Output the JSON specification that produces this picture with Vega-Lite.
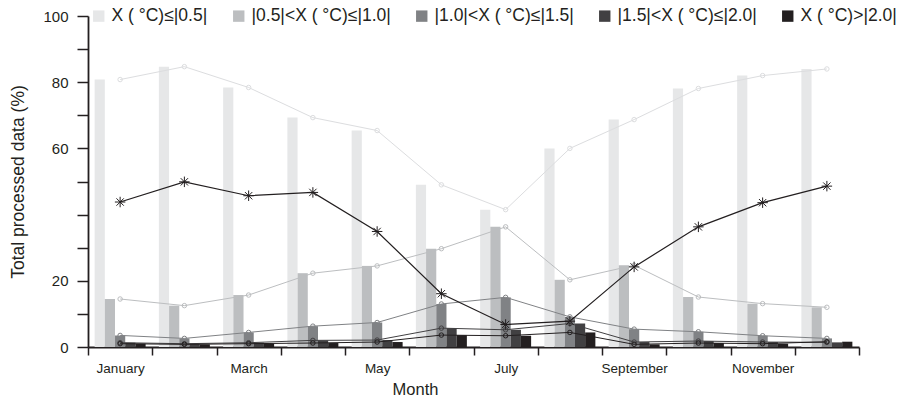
{
  "$schema": "https://vega.github.io/schema/vega-lite/v6.json",
  "width": 771,
  "height": 331,
  "autosize": {"type": "none"},
  "padding": {"left": 88, "top": 16, "right": 40, "bottom": 54},
  "background": "#ffffff",
  "config": {
    "font": "Liberation Sans",
    "view": {"stroke": null},
    "axis": {
      "domainColor": "#231f20",
      "tickColor": "#231f20",
      "labelColor": "#231f20",
      "titleColor": "#231f20",
      "titleFontWeight": "normal",
      "grid": false
    }
  },
  "datasets": {
    "bars": [
      {"month": "January", "series": "X ( °C)≤|0.5|", "value": 80.8},
      {"month": "February", "series": "X ( °C)≤|0.5|", "value": 84.7},
      {"month": "March", "series": "X ( °C)≤|0.5|", "value": 78.4},
      {"month": "April", "series": "X ( °C)≤|0.5|", "value": 69.3},
      {"month": "May", "series": "X ( °C)≤|0.5|", "value": 65.4},
      {"month": "June", "series": "X ( °C)≤|0.5|", "value": 49.0},
      {"month": "July", "series": "X ( °C)≤|0.5|", "value": 41.5},
      {"month": "August", "series": "X ( °C)≤|0.5|", "value": 60.0},
      {"month": "September", "series": "X ( °C)≤|0.5|", "value": 68.7},
      {"month": "October", "series": "X ( °C)≤|0.5|", "value": 78.1},
      {"month": "November", "series": "X ( °C)≤|0.5|", "value": 82.0},
      {"month": "December", "series": "X ( °C)≤|0.5|", "value": 84.0},
      {"month": "January", "series": "|0.5|<X ( °C)≤|1.0|", "value": 14.5},
      {"month": "February", "series": "|0.5|<X ( °C)≤|1.0|", "value": 12.5},
      {"month": "March", "series": "|0.5|<X ( °C)≤|1.0|", "value": 15.7},
      {"month": "April", "series": "|0.5|<X ( °C)≤|1.0|", "value": 22.3},
      {"month": "May", "series": "|0.5|<X ( °C)≤|1.0|", "value": 24.5},
      {"month": "June", "series": "|0.5|<X ( °C)≤|1.0|", "value": 29.7},
      {"month": "July", "series": "|0.5|<X ( °C)≤|1.0|", "value": 36.3},
      {"month": "August", "series": "|0.5|<X ( °C)≤|1.0|", "value": 20.3},
      {"month": "September", "series": "|0.5|<X ( °C)≤|1.0|", "value": 24.7},
      {"month": "October", "series": "|0.5|<X ( °C)≤|1.0|", "value": 15.1},
      {"month": "November", "series": "|0.5|<X ( °C)≤|1.0|", "value": 13.1},
      {"month": "December", "series": "|0.5|<X ( °C)≤|1.0|", "value": 12.0},
      {"month": "January", "series": "|1.0|<X ( °C)≤|1.5|", "value": 3.5},
      {"month": "February", "series": "|1.0|<X ( °C)≤|1.5|", "value": 2.6},
      {"month": "March", "series": "|1.0|<X ( °C)≤|1.5|", "value": 4.4},
      {"month": "April", "series": "|1.0|<X ( °C)≤|1.5|", "value": 6.3},
      {"month": "May", "series": "|1.0|<X ( °C)≤|1.5|", "value": 7.4},
      {"month": "June", "series": "|1.0|<X ( °C)≤|1.5|", "value": 13.0},
      {"month": "July", "series": "|1.0|<X ( °C)≤|1.5|", "value": 15.0},
      {"month": "August", "series": "|1.0|<X ( °C)≤|1.5|", "value": 9.1},
      {"month": "September", "series": "|1.0|<X ( °C)≤|1.5|", "value": 5.4},
      {"month": "October", "series": "|1.0|<X ( °C)≤|1.5|", "value": 4.6},
      {"month": "November", "series": "|1.0|<X ( °C)≤|1.5|", "value": 3.4},
      {"month": "December", "series": "|1.0|<X ( °C)≤|1.5|", "value": 2.6},
      {"month": "January", "series": "|1.5|<X ( °C)≤|2.0|", "value": 1.3},
      {"month": "February", "series": "|1.5|<X ( °C)≤|2.0|", "value": 1.0},
      {"month": "March", "series": "|1.5|<X ( °C)≤|2.0|", "value": 1.3},
      {"month": "April", "series": "|1.5|<X ( °C)≤|2.0|", "value": 2.0},
      {"month": "May", "series": "|1.5|<X ( °C)≤|2.0|", "value": 2.1},
      {"month": "June", "series": "|1.5|<X ( °C)≤|2.0|", "value": 5.7},
      {"month": "July", "series": "|1.5|<X ( °C)≤|2.0|", "value": 5.2},
      {"month": "August", "series": "|1.5|<X ( °C)≤|2.0|", "value": 7.1},
      {"month": "September", "series": "|1.5|<X ( °C)≤|2.0|", "value": 1.5},
      {"month": "October", "series": "|1.5|<X ( °C)≤|2.0|", "value": 1.8},
      {"month": "November", "series": "|1.5|<X ( °C)≤|2.0|", "value": 1.5},
      {"month": "December", "series": "|1.5|<X ( °C)≤|2.0|", "value": 1.4},
      {"month": "January", "series": "X ( °C)>|2.0|", "value": 1.0},
      {"month": "February", "series": "X ( °C)>|2.0|", "value": 0.8},
      {"month": "March", "series": "X ( °C)>|2.0|", "value": 1.0},
      {"month": "April", "series": "X ( °C)>|2.0|", "value": 1.2},
      {"month": "May", "series": "X ( °C)>|2.0|", "value": 1.5},
      {"month": "June", "series": "X ( °C)>|2.0|", "value": 3.6},
      {"month": "July", "series": "X ( °C)>|2.0|", "value": 3.4},
      {"month": "August", "series": "X ( °C)>|2.0|", "value": 4.4},
      {"month": "September", "series": "X ( °C)>|2.0|", "value": 0.8},
      {"month": "October", "series": "X ( °C)>|2.0|", "value": 1.2},
      {"month": "November", "series": "X ( °C)>|2.0|", "value": 1.0},
      {"month": "December", "series": "X ( °C)>|2.0|", "value": 1.6}
    ],
    "star": [
      {"month": "January", "value": 43.8},
      {"month": "February", "value": 49.9},
      {"month": "March", "value": 45.7},
      {"month": "April", "value": 46.7},
      {"month": "May", "value": 34.9},
      {"month": "June", "value": 16.1},
      {"month": "July", "value": 6.8},
      {"month": "August", "value": 7.8},
      {"month": "September", "value": 24.2},
      {"month": "October", "value": 36.3},
      {"month": "November", "value": 43.6},
      {"month": "December", "value": 48.6}
    ]
  },
  "encoding": {
    "x": {
      "field": "month",
      "type": "nominal",
      "sort": ["January", "February", "March", "April", "May", "June", "July", "August", "September", "October", "November", "December"],
      "scale": {"paddingInner": 0, "paddingOuter": 0},
      "axis": {
        "title": "Month",
        "titleFontSize": 16.5,
        "titleX": 327,
        "titleY": 34,
        "titleAlign": "center",
        "titleBaseline": "top",
        "labelFontSize": 13.5,
        "labelAngle": 0,
        "labelPadding": 6,
        "tickBand": "extent",
        "tickSize": 8,
        "tickWidth": 1.5,
        "domainWidth": 1.8,
        "labelExpr": "indexof(['January','March','May','July','September','November'], datum.value) >= 0 ? datum.value : ''"
      }
    },
    "y": {
      "field": "value",
      "type": "quantitative",
      "scale": {"domain": [0, 100], "nice": false},
      "axis": {
        "title": "Total processed data (%)",
        "titleFontSize": 17.5,
        "titlePadding": 15,
        "labelFontSize": 15,
        "labelPadding": 9,
        "tickSize": 11,
        "tickWidth": 1.5,
        "domainWidth": 1.8,
        "values": [0, 10, 20, 30, 40, 50, 60, 70, 80, 90, 100],
        "labelExpr": "(datum.value % 20 == 0 && datum.value != 40) ? datum.value : ''"
      }
    }
  },
  "layer": [
    {
      "data": {"name": "bars"},
      "mark": {"type": "bar"},
      "encoding": {
        "xOffset": {
          "field": "series",
          "type": "nominal",
          "sort": ["X ( °C)≤|0.5|", "|0.5|<X ( °C)≤|1.0|", "|1.0|<X ( °C)≤|1.5|", "|1.5|<X ( °C)≤|2.0|", "X ( °C)>|2.0|"],
          "scale": {"paddingInner": 0, "paddingOuter": 0.65}
        },
        "color": {
          "field": "series",
          "type": "nominal",
          "sort": ["X ( °C)≤|0.5|", "|0.5|<X ( °C)≤|1.0|", "|1.0|<X ( °C)≤|1.5|", "|1.5|<X ( °C)≤|2.0|", "X ( °C)>|2.0|"],
          "scale": {
            "domain": ["X ( °C)≤|0.5|", "|0.5|<X ( °C)≤|1.0|", "|1.0|<X ( °C)≤|1.5|", "|1.5|<X ( °C)≤|2.0|", "X ( °C)>|2.0|"],
            "range": ["#e6e7e8", "#bcbec0", "#808285", "#414042", "#231f20"]
          },
          "legend": {
            "title": null,
            "orient": "none",
            "legendX": 2,
            "legendY": -9,
            "direction": "horizontal",
            "padding": 0,
            "columnPadding": 22,
            "symbolType": "square",
            "symbolSize": 130,
            "symbolStrokeWidth": 0,
            "symbolOffset": 0,
            "labelFontSize": 17.5,
            "labelOffset": 4,
            "labelColor": "#231f20",
            "labelLimit": 300
          }
        }
      }
    },
    {
      "data": {"name": "bars"},
      "mark": {"type": "line", "strokeWidth": 1},
      "encoding": {
        "stroke": {
          "field": "series",
          "type": "nominal",
          "scale": {
            "domain": ["X ( °C)≤|0.5|", "|0.5|<X ( °C)≤|1.0|", "|1.0|<X ( °C)≤|1.5|", "|1.5|<X ( °C)≤|2.0|", "X ( °C)>|2.0|"],
            "range": ["#dcdddf", "#bcbec0", "#808285", "#414042", "#231f20"]
          },
          "legend": null
        }
      }
    },
    {
      "data": {"name": "bars"},
      "mark": {"type": "point", "filled": false, "size": 20, "strokeWidth": 1, "opacity": 1},
      "encoding": {
        "stroke": {
          "field": "series",
          "type": "nominal",
          "legend": null
        }
      }
    },
    {
      "data": {"name": "star"},
      "mark": {"type": "line", "color": "#231f20", "strokeWidth": 1.2},
      "encoding": {}
    },
    {
      "data": {"name": "star"},
      "mark": {
        "type": "point",
        "shape": "M-1,0L1,0M0,-1L0,1M-0.7,-0.7L0.7,0.7M-0.7,0.7L0.7,-0.7",
        "filled": false,
        "stroke": "#231f20",
        "size": 110,
        "strokeWidth": 1,
        "opacity": 1
      },
      "encoding": {}
    }
  ]
}
